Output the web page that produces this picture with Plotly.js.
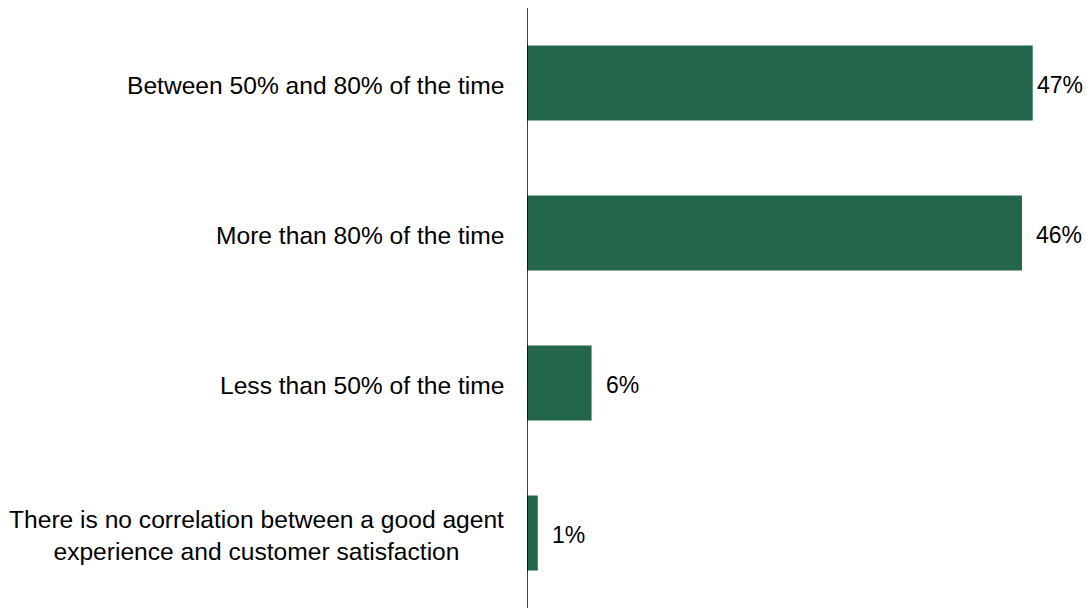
<!DOCTYPE html>
<html><head><meta charset="utf-8">
<script src="https://cdn.plot.ly/plotly-3.0.1.min.js"></script>
<style>html,body{margin:0;padding:0;background:#fff}#chart{width:1087px;height:608px}</style>
</head><body><div id="chart"></div>
<script>
const categories = [
  "Between 50% and 80% of the time",
  "More than 80% of the time",
  "Less than 50% of the time",
  "There is no correlation between a good agent<br>experience and customer satisfaction"
];
const values = [47, 46, 6, 1];
const valueLabels = ["47%", "46%", "6%", "1%"];

const W = 1087, H = 608;
const margin = {l: 527, r: 22, t: 8, b: 0};
const xMax = 50;
const plotW = W - margin.l - margin.r;
const fontFam = "Liberation Sans, Arial, sans-serif";
const fs = 23;
const catFs = 24.6;

const annotations = [];
categories.forEach((c, i) => {
  annotations.push({
    x: 0, xref: 'paper', y: i, yref: 'y', text: c, showarrow: false,
    xanchor: 'right', yanchor: 'middle', align: 'center', xshift: -21, yshift: -2,
    font: {family: fontFam, size: catFs, color: '#000'}
  });
  const xpix = margin.l + values[i] / xMax * plotW;
  const labW = valueLabels[i].length * fs * 0.7;
  const shift = Math.max(0, Math.min(12, W - 4 - (xpix + labW)));
  annotations.push({
    x: values[i], xref: 'x', y: i, yref: 'y', text: valueLabels[i], showarrow: false,
    xanchor: 'left', yanchor: 'middle', xshift: shift, yshift: -2,
    font: {family: fontFam, size: fs, color: '#000'}
  });
});

Plotly.newPlot('chart', [{
  type: 'bar', orientation: 'h',
  x: values, y: categories.map((c, i) => i),
  width: 0.5,
  marker: {color: '#23664a', line: {width: 0}},
  hoverinfo: 'skip'
}], {
  width: W, height: H, margin: margin,
  paper_bgcolor: '#fff', plot_bgcolor: '#fff',
  showlegend: false,
  xaxis: {range: [0, xMax], visible: false, fixedrange: true},
  yaxis: {range: [3.5, -0.5], showticklabels: false, showgrid: false, zeroline: false,
          ticks: '', showline: false, fixedrange: true},
  shapes: [{type: 'line', xref: 'x', yref: 'paper', x0: 0, x1: 0, y0: 0, y1: 1,
            line: {color: '#000', width: 1.5}}],
  annotations: annotations
}, {displayModeBar: false, staticPlot: true});
</script></body></html>
